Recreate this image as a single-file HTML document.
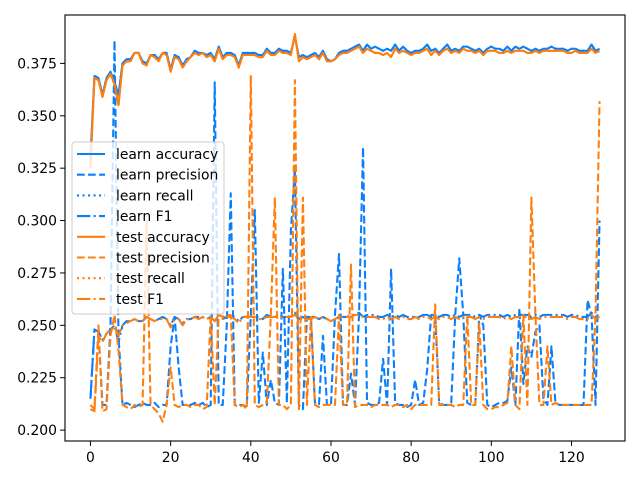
<!DOCTYPE html>
<html><head><meta charset="utf-8"><style>
html,body{margin:0;padding:0;background:#fff;}
svg{display:block;font-family:"DejaVu Sans","Liberation Sans",sans-serif;}
</style></head><body>
<svg id="chart" width="640" height="480" viewBox="0 0 640 480" xmlns="http://www.w3.org/2000/svg">
<rect x="0" y="0" width="640" height="480" fill="#fff"/>
<g id="plot"></g>
<g id="axes"></g>
<g id="legend"></g>
</svg>
<script>
const xTicks=[0,20,40,60,80,100,120];
const yTicks=[0.200,0.225,0.250,0.275,0.300,0.325,0.350,0.375];
const learnAccuracy=[0.330,0.369,0.368,0.360,0.368,0.371,0.366,0.360,0.375,0.377,
0.377,0.380,0.380,0.376,0.375,0.379,0.379,0.377,0.380,0.380,
0.372,0.379,0.378,0.374,0.377,0.378,0.381,0.380,0.380,0.379,
0.380,0.377,0.383,0.378,0.380,0.380,0.379,0.374,0.380,0.380,
0.380,0.380,0.379,0.379,0.382,0.380,0.380,0.382,0.381,0.381,
0.380,0.388,0.378,0.379,0.378,0.379,0.380,0.378,0.381,0.377,
0.376,0.377,0.380,0.381,0.381,0.382,0.383,0.384,0.381,0.384,
0.382,0.383,0.382,0.381,0.382,0.381,0.384,0.381,0.383,0.381,
0.380,0.381,0.381,0.382,0.384,0.381,0.382,0.380,0.382,0.384,
0.381,0.382,0.381,0.383,0.383,0.382,0.381,0.382,0.380,0.382,
0.383,0.382,0.382,0.381,0.383,0.381,0.383,0.382,0.383,0.382,
0.381,0.382,0.381,0.382,0.382,0.383,0.382,0.382,0.382,0.381,
0.382,0.382,0.381,0.381,0.381,0.384,0.381,0.382];
const learnRecall=[0.330,0.369,0.368,0.360,0.368,0.371,0.366,0.360,0.375,0.377,
0.377,0.380,0.380,0.376,0.375,0.379,0.379,0.377,0.380,0.380,
0.372,0.379,0.378,0.374,0.377,0.378,0.381,0.380,0.380,0.379,
0.380,0.377,0.383,0.378,0.380,0.380,0.379,0.374,0.380,0.380,
0.380,0.380,0.379,0.379,0.382,0.380,0.380,0.382,0.381,0.381,
0.380,0.388,0.378,0.379,0.378,0.379,0.380,0.378,0.381,0.377,
0.376,0.377,0.380,0.381,0.381,0.382,0.383,0.384,0.381,0.384,
0.382,0.383,0.382,0.381,0.382,0.381,0.384,0.381,0.383,0.381,
0.380,0.381,0.381,0.382,0.384,0.381,0.382,0.380,0.382,0.384,
0.381,0.382,0.381,0.383,0.383,0.382,0.381,0.382,0.380,0.382,
0.383,0.382,0.382,0.381,0.383,0.381,0.383,0.382,0.383,0.382,
0.381,0.382,0.381,0.382,0.382,0.383,0.382,0.382,0.382,0.381,
0.382,0.382,0.381,0.381,0.381,0.384,0.381,0.382];
const testAccuracy=[0.325,0.368,0.367,0.359,0.367,0.370,0.365,0.355,0.374,0.376,
0.376,0.380,0.380,0.375,0.374,0.379,0.378,0.376,0.380,0.379,
0.371,0.378,0.377,0.373,0.376,0.378,0.380,0.379,0.380,0.378,
0.379,0.376,0.382,0.377,0.379,0.379,0.378,0.373,0.379,0.379,
0.379,0.379,0.378,0.378,0.381,0.379,0.379,0.381,0.380,0.380,
0.379,0.389,0.376,0.378,0.377,0.378,0.379,0.377,0.380,0.376,
0.376,0.377,0.379,0.380,0.380,0.381,0.382,0.383,0.380,0.382,
0.381,0.380,0.380,0.379,0.380,0.378,0.382,0.380,0.381,0.380,
0.379,0.380,0.380,0.381,0.382,0.379,0.381,0.379,0.381,0.382,
0.380,0.381,0.380,0.382,0.381,0.381,0.380,0.381,0.379,0.381,
0.381,0.381,0.380,0.380,0.381,0.380,0.381,0.381,0.381,0.380,
0.380,0.381,0.380,0.381,0.381,0.381,0.381,0.381,0.381,0.380,
0.380,0.381,0.380,0.380,0.380,0.382,0.380,0.381];
const testRecall=[0.325,0.368,0.367,0.359,0.367,0.370,0.365,0.355,0.374,0.376,
0.376,0.380,0.380,0.375,0.374,0.379,0.378,0.376,0.380,0.379,
0.371,0.378,0.377,0.373,0.376,0.378,0.380,0.379,0.380,0.378,
0.379,0.376,0.382,0.377,0.379,0.379,0.378,0.373,0.379,0.379,
0.379,0.379,0.378,0.378,0.381,0.379,0.379,0.381,0.380,0.380,
0.379,0.389,0.376,0.378,0.377,0.378,0.379,0.377,0.380,0.376,
0.376,0.377,0.379,0.380,0.380,0.381,0.382,0.383,0.380,0.382,
0.381,0.380,0.380,0.379,0.380,0.378,0.382,0.380,0.381,0.380,
0.379,0.380,0.380,0.381,0.382,0.379,0.381,0.379,0.381,0.382,
0.380,0.381,0.380,0.382,0.381,0.381,0.380,0.381,0.379,0.381,
0.381,0.381,0.380,0.380,0.381,0.380,0.381,0.381,0.381,0.380,
0.380,0.381,0.380,0.381,0.381,0.381,0.381,0.381,0.381,0.380,
0.380,0.381,0.380,0.380,0.380,0.382,0.380,0.381];
const learnPrecision=[0.215,0.248,0.247,0.212,0.212,0.250,0.386,0.245,0.212,0.213,
0.212,0.211,0.212,0.213,0.212,0.212,0.213,0.211,0.212,0.212,
0.240,0.254,0.230,0.212,0.212,0.212,0.213,0.212,0.213,0.211,
0.212,0.366,0.212,0.212,0.250,0.313,0.212,0.212,0.212,0.211,
0.255,0.305,0.213,0.237,0.212,0.224,0.213,0.212,0.277,0.213,
0.295,0.325,0.212,0.210,0.254,0.254,0.213,0.212,0.245,0.212,
0.212,0.255,0.284,0.212,0.212,0.227,0.212,0.255,0.335,0.213,
0.212,0.212,0.213,0.234,0.212,0.277,0.213,0.212,0.212,0.211,
0.212,0.224,0.212,0.213,0.229,0.255,0.255,0.213,0.212,0.212,
0.213,0.255,0.282,0.255,0.213,0.212,0.212,0.255,0.250,0.212,
0.211,0.212,0.213,0.213,0.214,0.230,0.212,0.258,0.222,0.240,
0.235,0.247,0.250,0.215,0.212,0.240,0.213,0.212,0.212,0.212,
0.212,0.212,0.212,0.212,0.262,0.255,0.212,0.300];
const testPrecision=[0.212,0.210,0.250,0.209,0.210,0.245,0.255,0.238,0.212,0.211,
0.210,0.212,0.211,0.212,0.300,0.212,0.210,0.208,0.204,0.212,
0.230,0.212,0.211,0.212,0.212,0.211,0.212,0.212,0.210,0.211,
0.255,0.212,0.255,0.254,0.255,0.255,0.212,0.211,0.212,0.210,
0.369,0.212,0.211,0.212,0.213,0.255,0.311,0.212,0.212,0.210,
0.212,0.367,0.210,0.311,0.212,0.254,0.212,0.211,0.212,0.212,
0.212,0.212,0.255,0.212,0.212,0.279,0.211,0.212,0.212,0.212,
0.211,0.212,0.212,0.212,0.212,0.211,0.212,0.212,0.211,0.212,
0.210,0.212,0.212,0.212,0.212,0.212,0.260,0.212,0.212,0.212,
0.212,0.211,0.212,0.212,0.255,0.212,0.212,0.251,0.212,0.210,
0.210,0.211,0.211,0.212,0.213,0.240,0.212,0.210,0.255,0.212,
0.311,0.255,0.212,0.212,0.240,0.212,0.213,0.212,0.212,0.212,
0.212,0.212,0.212,0.212,0.212,0.212,0.255,0.357];
const learnF1=[0.215,0.248,0.247,0.243,0.246,0.248,0.250,0.242,0.250,0.252,
0.252,0.253,0.252,0.252,0.254,0.253,0.252,0.253,0.254,0.253,
0.250,0.254,0.253,0.251,0.253,0.253,0.254,0.254,0.254,0.253,
0.254,0.252,0.255,0.253,0.254,0.254,0.254,0.252,0.254,0.254,
0.254,0.254,0.254,0.253,0.255,0.254,0.254,0.255,0.254,0.254,
0.254,0.256,0.253,0.254,0.253,0.254,0.254,0.253,0.254,0.253,
0.252,0.253,0.254,0.254,0.254,0.255,0.255,0.256,0.254,0.255,
0.255,0.255,0.254,0.254,0.255,0.254,0.255,0.254,0.255,0.254,
0.254,0.254,0.254,0.255,0.255,0.254,0.255,0.254,0.255,0.255,
0.254,0.255,0.254,0.255,0.255,0.255,0.254,0.255,0.254,0.255,
0.255,0.255,0.255,0.254,0.255,0.254,0.255,0.255,0.255,0.255,
0.254,0.255,0.254,0.255,0.255,0.255,0.255,0.255,0.255,0.254,
0.255,0.255,0.254,0.254,0.254,0.256,0.254,0.255];
const testF1=[0.210,0.209,0.245,0.242,0.246,0.248,0.249,0.245,0.250,0.251,
0.252,0.253,0.252,0.252,0.254,0.253,0.252,0.253,0.253,0.253,
0.249,0.253,0.253,0.250,0.253,0.253,0.254,0.253,0.254,0.253,
0.254,0.252,0.255,0.253,0.254,0.254,0.253,0.251,0.254,0.254,
0.254,0.254,0.253,0.253,0.254,0.254,0.254,0.254,0.254,0.254,
0.254,0.255,0.253,0.253,0.253,0.253,0.254,0.253,0.254,0.253,
0.252,0.253,0.254,0.254,0.254,0.254,0.255,0.255,0.254,0.254,
0.254,0.254,0.253,0.253,0.254,0.253,0.254,0.253,0.254,0.253,
0.253,0.254,0.253,0.254,0.254,0.253,0.254,0.253,0.254,0.254,
0.253,0.254,0.253,0.254,0.254,0.254,0.253,0.254,0.253,0.254,
0.254,0.254,0.254,0.253,0.254,0.253,0.254,0.254,0.254,0.254,
0.253,0.254,0.253,0.254,0.254,0.254,0.254,0.254,0.254,0.253,
0.254,0.254,0.253,0.253,0.253,0.255,0.253,0.254];
const seriesNames=["learn accuracy","learn precision","learn recall","learn F1","test accuracy","test precision","test recall","test F1"];

const NS="http://www.w3.org/2000/svg";
const AX={l:65,r:625,t:15,b:441};
const xMin=-6.35,xMax=133.35,yMin=0.1948,yMax=0.3981;
function xs(v){return AX.l+(v-xMin)/(xMax-xMin)*(AX.r-AX.l);}
function ys(v){return AX.b-(v-yMin)/(yMax-yMin)*(AX.b-AX.t);}
const BLUE="#0a7ffb",ORANGE="#ff7f0e";
const LW=2.08;
const styles=[
 {c:BLUE,d:""},{c:BLUE,d:"7.7,3.33"},{c:BLUE,d:"2.08,3.43"},{c:BLUE,d:"13.3,3.33,2.08,3.33"},
 {c:ORANGE,d:""},{c:ORANGE,d:"7.7,3.33"},{c:ORANGE,d:"2.08,3.43"},{c:ORANGE,d:"13.3,3.33,2.08,3.33"}];
const seriesData=[learnAccuracy,learnPrecision,learnRecall,learnF1,testAccuracy,testPrecision,testRecall,testF1];
const plot=document.getElementById('plot');
const clip=document.createElementNS(NS,'clipPath');clip.setAttribute('id','clip');
const cr=document.createElementNS(NS,'rect');
cr.setAttribute('x',AX.l);cr.setAttribute('y',AX.t);cr.setAttribute('width',AX.r-AX.l);cr.setAttribute('height',AX.b-AX.t);
clip.appendChild(cr);document.getElementById('chart').appendChild(clip);
plot.setAttribute('clip-path','url(#clip)');
seriesData.forEach((arr,si)=>{
  const p=document.createElementNS(NS,'path');
  
  
  p.setAttribute('d',arr.map((v,i)=>(i?'L':'M')+xs(i).toFixed(2)+','+ys(v).toFixed(2)).join(''));
  p.setAttribute('fill','none');p.setAttribute('stroke',styles[si].c);p.setAttribute('stroke-width',LW);
  p.setAttribute('stroke-linejoin','round');
  if(styles[si].d)p.setAttribute('stroke-dasharray',styles[si].d);
  plot.appendChild(p);
});
const axes=document.getElementById('axes');
const frame=document.createElementNS(NS,'rect');


frame.setAttribute('x',AX.l);frame.setAttribute('y',AX.t);frame.setAttribute('width',AX.r-AX.l);frame.setAttribute('height',AX.b-AX.t);
frame.setAttribute('fill','none');frame.setAttribute('stroke','#000');frame.setAttribute('stroke-width','1.1');
axes.appendChild(frame);
xTicks.forEach(t=>{
  const x=xs(t);
  const l=document.createElementNS(NS,'line');
  
  
  l.setAttribute('x1',x);l.setAttribute('x2',x);l.setAttribute('y1',AX.b);l.setAttribute('y2',AX.b+4.9);l.setAttribute('stroke','#000');
  axes.appendChild(l);
  const tx=document.createElementNS(NS,'text');
  
  
  tx.setAttribute('x',x);tx.setAttribute('y',AX.b+21);tx.setAttribute('text-anchor','middle');tx.setAttribute('font-size','13.9');
  tx.textContent=t;axes.appendChild(tx);
});
yTicks.forEach(t=>{
  const y=ys(t);
  const l=document.createElementNS(NS,'line');
  
  
  l.setAttribute('x1',AX.l-4.9);l.setAttribute('x2',AX.l);l.setAttribute('y1',y);l.setAttribute('y2',y);l.setAttribute('stroke','#000');
  axes.appendChild(l);
  const tx=document.createElementNS(NS,'text');
  
  
  tx.setAttribute('x',AX.l-8);tx.setAttribute('y',y+5);tx.setAttribute('text-anchor','end');tx.setAttribute('font-size','13.9');
  tx.textContent=t.toFixed(3);axes.appendChild(tx);
});
const lg=document.getElementById('legend');
const box=document.createElementNS(NS,'rect');


box.setAttribute('x',72);box.setAttribute('y',142);box.setAttribute('width',152);box.setAttribute('height',172);box.setAttribute('rx',3);
box.setAttribute('fill','rgba(255,255,255,0.8)');box.setAttribute('stroke','#ccc');
lg.appendChild(box);
seriesNames.forEach((n,i)=>{
  const y=154+i*20.7;
  const l=document.createElementNS(NS,'line');
  
  
  l.setAttribute('x1',77);l.setAttribute('x2',105);l.setAttribute('y1',y);l.setAttribute('y2',y);
  l.setAttribute('stroke',styles[i].c);l.setAttribute('stroke-width',LW);
  if(styles[i].d)l.setAttribute('stroke-dasharray',styles[i].d);
  lg.appendChild(l);
  const tx=document.createElementNS(NS,'text');
  
  
  tx.setAttribute('x',116);tx.setAttribute('y',y+5);tx.setAttribute('font-size','13.9');
  tx.textContent=n;lg.appendChild(tx);
});
</script>
</body></html>
